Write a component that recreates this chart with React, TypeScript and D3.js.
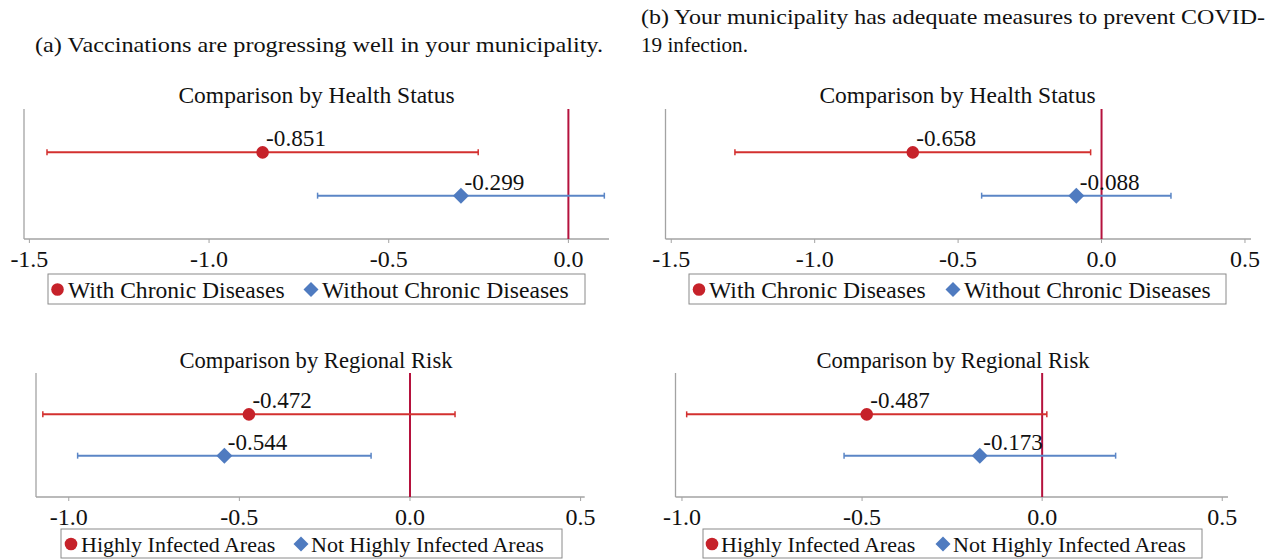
import React from "react";
import * as d3 from "d3";

// ---- data ----
const healthGroups = ["With Chronic Diseases", "Without Chronic Diseases"];
const regionGroups = ["Highly Infected Areas", "Not Highly Infected Areas"];

const vaccHealthEst = [-0.851, -0.299];
const vaccHealthLo = [-1.451, -0.698];
const vaccHealthHi = [-0.251, 0.1];

const vaccRegionEst = [-0.472, -0.544];
const vaccRegionLo = [-1.076, -0.974];
const vaccRegionHi = [0.132, -0.114];

const measHealthEst = [-0.658, -0.088];
const measHealthLo = [-1.278, -0.418];
const measHealthHi = [-0.038, 0.242];

const measRegionEst = [-0.487, -0.173];
const measRegionLo = [-0.987, -0.55];
const measRegionHi = [0.013, 0.204];

const ticksVaccHealth = [-1.5, -1.0, -0.5, 0.0];
const ticksMeasHealth = [-1.5, -1.0, -0.5, 0.0, 0.5];
const ticksRegion = [-1.0, -0.5, 0.0, 0.5];

const captionA = "(a) Vaccinations are progressing well in your municipality.";
const captionB1 = "(b) Your municipality has adequate measures to prevent COVID-";
const captionB2 = "19 infection.";
const titleHealth = "Comparison by Health Status";
const titleRegion = "Comparison by Regional Risk";

// ---- style ----
const FONT = "'Liberation Serif', 'Times New Roman', serif";
const RED_LINE = "#d3302f";
const RED_PT = "#c6222a";
const BLUE_LINE = "#5b86c6";
const BLUE_PT = "#4f7bc0";
const REF = "#b5123d";
const AXIS = "#a3a3a3";

const hyphen = (s: string) => s.replace("\u2212", "-");
const fmtTick = (v: number) => hyphen(d3.format(".1f")(v));
const fmtEst = (v: number) => hyphen(d3.format(".3f")(v));

type PanelProps = {
  title: string;
  groups: string[];
  est: number[];
  lo: number[];
  hi: number[];
  ticks: number[];
  domain: [number, number];
  left: number;
  right: number;
  top: number;
  axisY: number;
  titleX: number;
  titleY: number;
  fs: { title: number; tick: number; label: number; legend: number };
  legend: { box: [number, number, number, number]; m1: number; t1: number; m2: number; t2: number; my: number; ty: number };
};

function Panel(p: PanelProps) {
  const x = d3.scaleLinear().domain(p.domain).range([p.left, p.right]);
  const y = d3.scaleLinear().domain([0, 3]).range([p.axisY, p.top]);
  const rows = [2, 1];
  const colorsL = [RED_LINE, BLUE_LINE];
  const colorsP = [RED_PT, BLUE_PT];
  const diamond = (cx: number, cy: number, r: number) =>
    `M${cx},${cy - r}L${cx + r},${cy}L${cx},${cy + r}L${cx - r},${cy}Z`;
  const L = p.legend;
  return (
    <g>
      <text x={p.titleX} y={p.titleY} textAnchor="middle" fontFamily={FONT} fontSize={p.fs.title} fill="#111">
        {p.title}
      </text>
      {/* axes */}
      <line x1={p.left} x2={p.left} y1={p.top} y2={p.axisY} stroke={AXIS} strokeWidth={1.3} />
      <line x1={p.left} x2={p.right} y1={p.axisY} y2={p.axisY} stroke={AXIS} strokeWidth={1.3} />
      {p.ticks.map((t) => (
        <g key={t}>
          <line x1={x(t)} x2={x(t)} y1={p.axisY} y2={p.axisY + 4} stroke={AXIS} strokeWidth={1} />
          <text x={x(t)} y={p.axisY + 28} textAnchor="middle" fontFamily={FONT} fontSize={p.fs.tick} fill="#111">
            {fmtTick(t)}
          </text>
        </g>
      ))}
      {/* reference line */}
      <line x1={x(0)} x2={x(0)} y1={p.top} y2={p.axisY} stroke={REF} strokeWidth={2} />
      {/* CIs */}
      {p.est.map((e, i) => {
        const cy = y(rows[i]);
        return (
          <g key={i}>
            <line x1={x(p.lo[i])} x2={x(p.hi[i])} y1={cy} y2={cy} stroke={colorsL[i]} strokeWidth={2} />
            <line x1={x(p.lo[i])} x2={x(p.lo[i])} y1={cy - 3} y2={cy + 3} stroke={colorsL[i]} strokeWidth={1.5} />
            <line x1={x(p.hi[i])} x2={x(p.hi[i])} y1={cy - 3} y2={cy + 3} stroke={colorsL[i]} strokeWidth={1.5} />
            {i === 0 ? (
              <circle cx={x(e)} cy={cy} r={6.3} fill={colorsP[i]} />
            ) : (
              <path d={diamond(x(e), cy, 8)} fill={colorsP[i]} />
            )}
            <text x={x(e) + 3.5} y={cy - 6} fontFamily={FONT} fontSize={p.fs.label} fill="#111">
              {fmtEst(e)}
            </text>
          </g>
        );
      })}
      {/* legend */}
      <rect x={L.box[0]} y={L.box[1]} width={L.box[2] - L.box[0]} height={L.box[3] - L.box[1]} fill="none" stroke="#8a8a8a" strokeWidth={1} />
      <circle cx={L.m1} cy={L.my} r={6.3} fill={RED_PT} />
      <text x={L.t1} y={L.ty} fontFamily={FONT} fontSize={p.fs.legend} fill="#111">{p.groups[0]}</text>
      <path d={diamond(L.m2, L.my, 7.5)} fill={BLUE_PT} />
      <text x={L.t2} y={L.ty} fontFamily={FONT} fontSize={p.fs.legend} fill="#111">{p.groups[1]}</text>
    </g>
  );
}

const fsTop = { title: 23.5, tick: 24, label: 23.2, legend: 23.6 };
const fsBottom = { title: 22.6, tick: 24, label: 23, legend: 22 };

export default function App() {
  return (
    <svg width={1276} height={559} style={{ position: "absolute", left: 0, top: 0, background: "#fff" }}>
      <rect width={1276} height={559} fill="#fff" />
      <text x={35} y={52} fontFamily={FONT} fontSize={21.5} textLength={568} lengthAdjust="spacingAndGlyphs" fill="#111">
        {captionA}
      </text>
      <text x={641} y={24} fontFamily={FONT} fontSize={21.5} textLength={624} lengthAdjust="spacingAndGlyphs" fill="#111">
        {captionB1}
      </text>
      <text x={641} y={52} fontFamily={FONT} fontSize={21.5} textLength={107} lengthAdjust="spacingAndGlyphs" fill="#111">
        {captionB2}
      </text>

      <Panel
        title={titleHealth}
        groups={healthGroups}
        est={vaccHealthEst}
        lo={vaccHealthLo}
        hi={vaccHealthHi}
        ticks={ticksVaccHealth}
        domain={[-1.515, 0.113]}
        left={24}
        right={609}
        top={109}
        axisY={239}
        titleX={316.5}
        titleY={103}
        fs={fsTop}
        legend={{ box: [48, 274, 585, 304], m1: 57.5, t1: 68, m2: 311, t2: 322, my: 289.5, ty: 298 }}
      />
      <Panel
        title={titleHealth}
        groups={healthGroups}
        est={measHealthEst}
        lo={measHealthLo}
        hi={measHealthHi}
        ticks={ticksMeasHealth}
        domain={[-1.52, 0.521]}
        left={665.5}
        right={1251}
        top={109}
        axisY={239}
        titleX={957.5}
        titleY={103}
        fs={fsTop}
        legend={{ box: [689, 274, 1226, 304], m1: 699, t1: 709, m2: 953, t2: 964, my: 289.5, ty: 298 }}
      />
      <Panel
        title={titleRegion}
        groups={regionGroups}
        est={vaccRegionEst}
        lo={vaccRegionLo}
        hi={vaccRegionHi}
        ticks={ticksRegion}
        domain={[-1.096, 0.512]}
        left={36}
        right={584.7}
        top={373}
        axisY={497}
        titleX={316}
        titleY={368}
        fs={fsBottom}
        legend={{ box: [61, 529, 562, 558], m1: 71, t1: 81, m2: 301, t2: 311, my: 544, ty: 552 }}
      />
      <Panel
        title={titleRegion}
        groups={regionGroups}
        est={measRegionEst}
        lo={measRegionLo}
        hi={measRegionHi}
        ticks={ticksRegion}
        domain={[-1.018, 0.516]}
        left={675.5}
        right={1228}
        top={373}
        axisY={497}
        titleX={953}
        titleY={368}
        fs={fsBottom}
        legend={{ box: [703, 529, 1202, 558], m1: 712, t1: 721, m2: 943, t2: 953, my: 544, ty: 552 }}
      />
    </svg>
  );
}
